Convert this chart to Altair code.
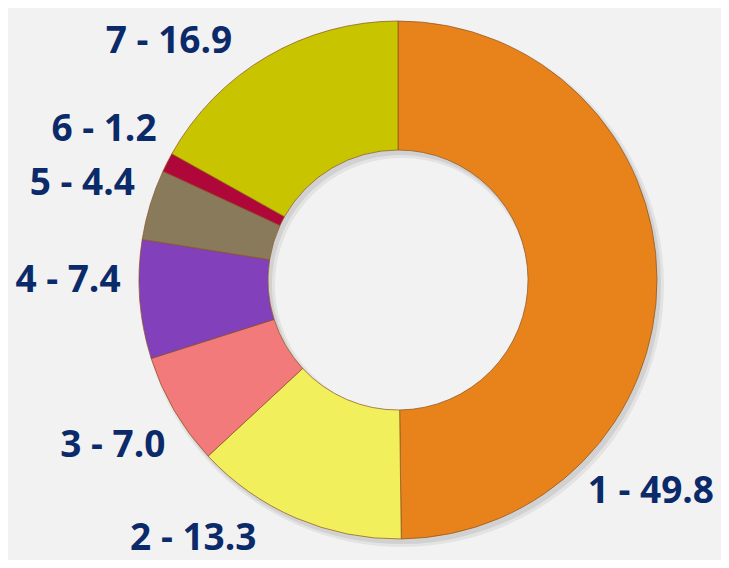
import math
import altair as alt
import pandas as pd

# ---- data ----
categories = ["1", "2", "3", "4", "5", "6", "7"]
values = [49.8, 13.3, 7.0, 7.4, 4.4, 1.2, 16.9]
colors = ["#E8831C", "#F2EF5C", "#F27A7A", "#8240BA", "#8A7A5C", "#B0073A", "#C8C400"]

# ---- layout ----
W, H = 713, 552
CX, CY = 390, 272
R_OUT, R_IN = 259, 130
R_LABEL = 330
LABEL_HALF_W = 64
LABEL_TOP = 34
LABEL_BOTTOM = 21


def fits(ang):
    x = CX + R_LABEL * math.sin(ang)
    y = CY - R_LABEL * math.cos(ang)
    return (x - LABEL_HALF_W >= 0 and x + LABEL_HALF_W <= W - 6
            and y - LABEL_TOP >= 0 and y + LABEL_BOTTOM <= H)


total = sum(values)
starts, ends, label_pct, labels = [], [], [], []
cum = 0.0
for c, v in zip(categories, values):
    s = cum
    e = cum + v
    cum = e
    starts.append(s)
    ends.append(e)
    mid = (s + e) / 2
    # keep the label inside the frame: turn it away from the edge until it fits
    ang = mid / total * 2 * math.pi
    step = 0.004
    for _ in range(400):
        if fits(ang):
            break
        x = CX + R_LABEL * math.sin(ang)
        if x + LABEL_HALF_W > W - 6:
            ang += step  # right edge: turn clockwise (down)
        elif math.cos(ang) > 0:
            # near the top: move towards the horizontal axis
            ang += step if math.sin(ang) > 0 else -step
        else:
            # near the bottom: move towards the horizontal axis
            ang += -step if math.sin(ang) > 0 else step
    label_pct.append(ang / (2 * math.pi) * total)
    labels.append(f"{c} - {v:.1f}")

df = pd.DataFrame({
    "cat": categories,
    "value": values,
    "start": starts,
    "end": ends,
    "label_pct": label_pct,
    "label": labels,
})

theta_scale = alt.Scale(domain=[0, total], range=[0, 2 * math.pi])
color_scale = alt.Scale(domain=categories, range=colors)

base = alt.Chart(df)

shadow1 = base.mark_arc(
    outerRadius=R_OUT + 3, innerRadius=R_IN - 3, color="#000000", opacity=0.06
).encode(
    theta=alt.Theta("start:Q", scale=theta_scale),
    theta2="end:Q",
    x=alt.value(CX + 4),
    y=alt.value(CY + 5),
)
shadow2 = base.mark_arc(
    outerRadius=R_OUT + 1, innerRadius=R_IN - 1, color="#000000", opacity=0.08
).encode(
    theta=alt.Theta("start:Q", scale=theta_scale),
    theta2="end:Q",
    x=alt.value(CX + 3),
    y=alt.value(CY + 4),
)

arcs = base.mark_arc(
    outerRadius=R_OUT, innerRadius=R_IN, stroke="#8A5220", strokeWidth=1, strokeOpacity=0.7
).encode(
    theta=alt.Theta("start:Q", scale=theta_scale),
    theta2="end:Q",
    color=alt.Color("cat:N", scale=color_scale, legend=None),
    x=alt.value(CX),
    y=alt.value(CY),
)

text = base.mark_text(
    font="Open Sans", fontWeight="bold", fontSize=37, color="#0B2A6A",
    align="center", baseline="middle",
).encode(
    theta=alt.Theta("label_pct:Q", scale=theta_scale),
    radius=alt.value(R_LABEL),
    text="label:N",
    x=alt.value(CX),
    y=alt.value(CY),
)

chart = alt.layer(shadow1, shadow2, arcs, text).properties(
    width=W, height=H, background="#F2F2F2", padding=0,
    autosize=alt.AutoSizeParams(type="none"),
).configure_view(stroke=None)

chart.save("out.html", embed_options={"renderer": "svg", "actions": False})
